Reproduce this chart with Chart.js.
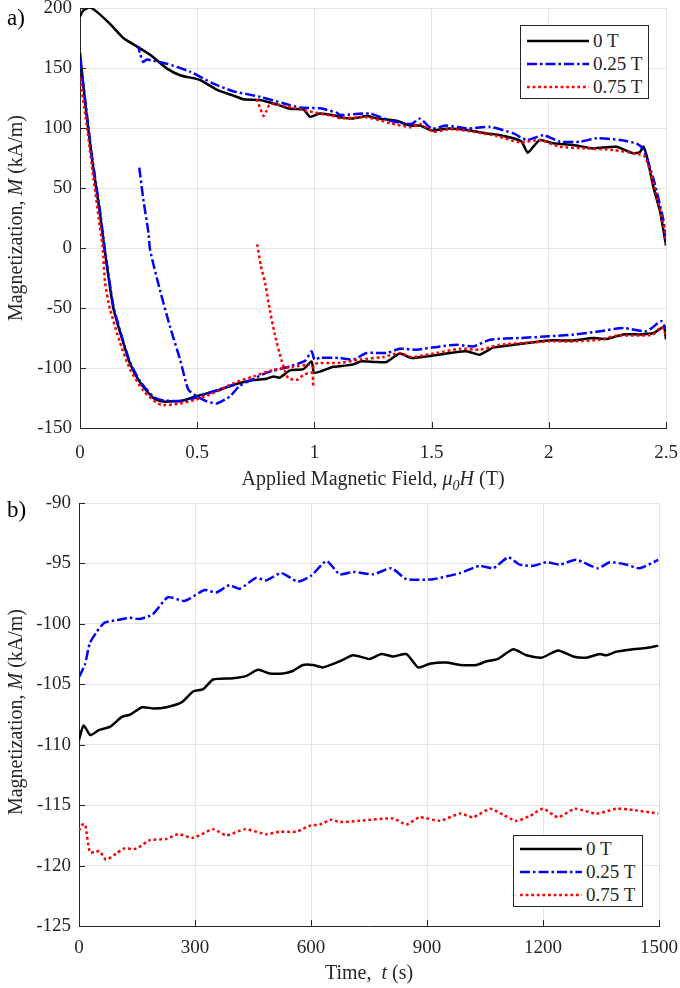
<!DOCTYPE html>
<html>
<head>
<meta charset="utf-8">
<script src="https://cdn.jsdelivr.net/npm/chart.js@4.4.1/dist/chart.umd.min.js"></script>
<style>
  body { margin: 0; width: 680px; height: 988px; position: relative; overflow: hidden; background: #fff;
         font-family: "Liberation Serif", "Times New Roman", serif; color: #262626; }
  .box { position: absolute; left: 0; width: 680px; }
  .txt { position: absolute; white-space: nowrap; font-size: 20px; line-height: 1; }
  .ytitle { transform: translate(-50%, -50%) rotate(-90deg); }
  .xtitle { transform: translate(-50%, -50%); }
  .panel { font-size: 23px; color: #000; }
  .legend { position: absolute; border: 1px solid #262626; background: #fff; box-sizing: border-box; padding-top: 3px; }
  .legend .row { display: flex; align-items: center; height: 23px; padding-left: 6px; font-size: 19px; }
  .legend svg { margin-right: 4px; }
</style>
</head>
<body>
<div class="box" style="top:0;height:470px"><canvas id="fieldChart"></canvas></div>
<div class="box" style="top:490px;height:480px"><canvas id="timeChart"></canvas></div>

<div class="txt panel" style="left:7px;top:6px">a)</div>
<div class="txt panel" style="left:7px;top:498px">b)</div>
<div class="txt ytitle" style="left:15px;top:218px">Magnetization, <i>M</i> (kA/m)</div>
<div class="txt ytitle" style="left:15px;top:712px">Magnetization, <i>M</i> (kA/m)</div>
<div class="txt xtitle" style="left:373px;top:480px">Applied Magnetic Field, <i>&mu;</i><sub style="font-size:14px;vertical-align:-5px"><i>0</i></sub><i>H</i> (T)</div>
<div class="txt xtitle" style="left:369px;top:972px">Time,&nbsp; <i>t</i> (s)</div>

<div class="legend" id="legendA" style="left:520px;top:25px;width:129px;height:74px"></div>
<div class="legend" id="legendB" style="left:513px;top:835px;width:130px;height:72px;padding-top:1px"></div>

<script>
// series
const seriesNames = ['0 T', '0.25 T', '0.75 T'];

// a) M vs applied field
const fieldTicks = [0, 0.5, 1, 1.5, 2, 2.5];
const magTicksA = [-150, -100, -50, 0, 50, 100, 150, 200];

const fieldBlackLow = [0, 0.021, 0.05, 0.085, 0.104, 0.142, 0.177, 0.213, 0.256, 0.313, 0.356, 0.44, 0.505, 0.583, 0.654, 0.74, 0.796, 0.825, 0.853, 0.896, 0.953, 0.988, 1.0, 1.08, 1.109, 1.166, 1.2, 1.26, 1.308, 1.364, 1.414, 1.5, 1.578, 1.649, 1.706, 1.763, 1.877, 2.0, 2.105, 2.19, 2.247, 2.318, 2.39, 2.447, 2.49, 2.5];
const magBlackLow = [162.5, 123, 76, 29, 0, -49.7, -74, -96, -112, -125, -128, -127, -123, -119, -114, -110, -109, -107, -108, -102, -100.9, -94.5, -104, -99, -98.6, -97, -94.4, -95, -95, -88, -91.7, -89.7, -87.5, -86, -88.9, -83, -80, -77, -77, -75, -75.8, -72, -72, -70.8, -66, -76];
const fieldBlackUp = [2.5, 2.475, 2.445, 2.42, 2.403, 2.389, 2.36, 2.288, 2.19, 2.105, 2.02, 1.962, 1.934, 1.91, 1.884, 1.849, 1.792, 1.735, 1.65, 1.578, 1.521, 1.5, 1.45, 1.408, 1.351, 1.266, 1.223, 1.166, 1.109, 1.095, 1.024, 0.981, 0.953, 0.896, 0.84, 0.768, 0.697, 0.654, 0.583, 0.512, 0.427, 0.37, 0.299, 0.242, 0.185, 0.128, 0.071, 0.04, 0.014, 0];
const magBlackUp = [2, 30, 51.8, 75, 84.5, 80, 79, 84.4, 83, 85.8, 87.2, 90, 84.4, 79.4, 88.6, 91.4, 94, 95.5, 98.3, 99.6, 98.3, 98, 102, 102, 106, 108, 110, 108, 109, 110, 112, 109.4, 115.5, 116, 119.6, 123.3, 124, 127, 132, 140, 144, 149.7, 161, 168, 175, 186.7, 197, 200.5, 198, 193];

const fieldBlueA = [0, 0.021, 0.05, 0.085, 0.104, 0.142, 0.177, 0.213, 0.256, 0.313, 0.356, 0.44, 0.505, 0.56, 0.66];
const magBlueA = [158, 125, 78, 31, 2, -48, -73, -95, -111, -124, -127, -127.5, -124, -120, -114];
const fieldBlueB = [0.253, 0.27, 0.292, 0.299, 0.341, 0.384, 0.427, 0.462, 0.498, 0.54, 0.583, 0.64, 0.68, 0.74, 0.796, 0.896, 0.96, 0.988, 1.0, 1.024, 1.109, 1.166, 1.223, 1.308, 1.364, 1.436, 1.536, 1.607, 1.678, 1.749, 1.877, 2.0, 2.105, 2.218, 2.318, 2.417, 2.48, 2.5];
const magBlueB = [66.9, 40.6, 12.8, -1.7, -35, -65.6, -93, -118, -123.6, -127.7, -129.6, -123.6, -115, -109, -104, -98.6, -94, -86, -93, -91.5, -91.7, -93, -87.5, -87.5, -84, -84.7, -82, -80.6, -82, -76.4, -75, -73.6, -72.2, -69.4, -66.7, -69.4, -61, -68];
const fieldBlueUp = [2.5, 2.488, 2.445, 2.403, 2.375, 2.304, 2.204, 2.133, 2.048, 1.977, 1.906, 1.849, 1.749, 1.65, 1.564, 1.5, 1.45, 1.414, 1.323, 1.237, 1.109, 1.095, 1.024, 0.939, 0.868, 0.768, 0.654, 0.569, 0.469, 0.37, 0.313, 0.284, 0.27, 0.256, 0.249];
const magBlueUp = [7, 24, 58.7, 82.4, 87, 90, 91.4, 88.6, 88.6, 94, 90, 95.5, 100.9, 99.6, 102, 99.6, 107.8, 103.3, 106, 112, 110.8, 112.8, 116.4, 117, 120.6, 126, 130.6, 137, 147, 153.6, 156, 157, 155, 162, 168];

const fieldRedA = [0, 0.028, 0.057, 0.085, 0.097, 0.107, 0.128, 0.171, 0.213, 0.27, 0.327, 0.356, 0.427, 0.484, 0.569, 0.654, 0.74, 0.825, 0.91, 0.98];
const magRedA = [141.7, 103.5, 59, 17.5, 0, -29, -51, -79, -101, -119, -129, -131, -129.6, -127, -121, -112.6, -107, -101.5, -99, -97];
const fieldRedB = [0.756, 0.772, 0.79, 0.81, 0.83, 0.859, 0.888, 0.93, 0.953, 0.99, 0.995, 1.0, 1.109, 1.195, 1.294, 1.364, 1.414, 1.521, 1.621, 1.706, 1.792, 1.906, 2.0, 2.105, 2.218, 2.29, 2.389, 2.445, 2.48, 2.5];
const magRedB = [3, -15, -29.4, -51.7, -71, -93, -108.4, -109.7, -105.6, -104, -115.6, -97, -95.8, -93, -90.8, -87.5, -90.8, -87.5, -84, -84.7, -80.6, -79, -77.8, -77.8, -76.4, -73, -73, -72, -65.8, -72];
const fieldRedUp = [2.5, 2.496, 2.453, 2.41, 2.36, 2.275, 2.161, 2.048, 1.962, 1.877, 1.778, 1.678, 1.578, 1.507, 1.45, 1.414, 1.323, 1.223, 1.109, 1.095, 1.024, 0.939, 0.868, 0.811, 0.795, 0.783, 0.77, 0.754];
const magRedUp = [3, 13, 49, 76, 79, 81.7, 83, 84.4, 90, 88, 93.3, 97, 99, 97, 103.3, 100.6, 104, 108.9, 108, 109.4, 112, 115.5, 118.5, 120, 114, 110, 116, 124];

// b) M vs time
const timeTicks = [0, 300, 600, 900, 1200, 1500];
const magTicksB = [-125, -120, -115, -110, -105, -100, -95, -90];

const timeBlack = [0, 12, 29, 51, 81, 111, 133, 163, 193, 226, 265, 295, 321, 347, 398, 433, 463, 493, 528, 553, 579, 605, 631, 674, 709, 752, 782, 812, 847, 877, 907, 950, 985, 1028, 1054, 1084, 1123, 1157, 1196, 1239, 1278, 1312, 1347, 1364, 1390, 1433, 1467, 1498];
const magBlack = [-109.6, -108.4, -109.2, -108.8, -108.5, -107.7, -107.5, -106.9, -107.0, -106.9, -106.5, -105.6, -105.4, -104.6, -104.5, -104.3, -103.8, -104.1, -104.1, -103.9, -103.4, -103.4, -103.6, -103.1, -102.6, -102.9, -102.5, -102.7, -102.5, -103.6, -103.3, -103.2, -103.4, -103.4, -103.1, -102.9, -102.1, -102.6, -102.8, -102.2, -102.7, -102.8, -102.5, -102.6, -102.3, -102.1, -102.0, -101.8];
const timeBlue = [0, 15, 28, 45, 66, 97, 131, 157, 191, 230, 273, 325, 355, 389, 415, 458, 484, 523, 566, 601, 640, 674, 709, 761, 808, 847, 916, 985, 1036, 1071, 1110, 1140, 1174, 1209, 1243, 1286, 1342, 1373, 1416, 1450, 1498];
const magBlue = [-104.4, -103.4, -101.6, -100.7, -99.9, -99.7, -99.5, -99.6, -99.2, -97.8, -98.1, -97.2, -97.4, -96.8, -97.1, -96.2, -96.4, -95.8, -96.5, -96.0, -94.8, -95.9, -95.7, -95.9, -95.4, -96.3, -96.3, -95.8, -95.2, -95.4, -94.5, -95.1, -95.2, -94.9, -95.1, -94.7, -95.4, -94.9, -95.1, -95.4, -94.7];
const timeRed = [0, 9, 16, 28, 40, 53, 70, 97, 114, 148, 183, 226, 256, 295, 347, 381, 429, 485, 519, 562, 597, 623, 653, 674, 726, 812, 847, 881, 933, 985, 1019, 1063, 1097, 1131, 1166, 1200, 1239, 1282, 1338, 1390, 1433, 1498];
const magRed = [-117.1, -116.6, -116.6, -118.9, -118.9, -118.8, -119.5, -119.0, -118.6, -118.6, -117.9, -117.8, -117.4, -117.7, -117.0, -117.5, -117.0, -117.4, -117.2, -117.2, -116.7, -116.6, -116.2, -116.4, -116.3, -116.1, -116.6, -116.0, -116.3, -115.7, -116.0, -115.3, -115.8, -116.3, -115.9, -115.3, -116.0, -115.3, -115.7, -115.3, -115.4, -115.7];

// styles
const lineColors = ['#000000', '#0000ff', '#ff0000'];
const lineDash = [[], [10, 3, 2.5, 3], [2.8, 2.8]];
const gridColor = '#e3e3e3';
const axisColor = '#262626';
const serif = '"Liberation Serif", "Times New Roman", serif';
const tickFont = { family: serif, size: 19 };

Chart.defaults.font.family = serif;

function points(xs, ys) {
    return xs.map(function (x, i) { return { x: x, y: ys[i] }; });
}

function line(k, xs, ys) {
    return {
        label: seriesNames[k],
        data: points(xs, ys),
        showLine: true,
        borderColor: lineColors[k],
        borderWidth: 2.5,
        borderDash: lineDash[k],
        borderCapStyle: 'butt',
        pointRadius: 0,
        tension: 0.2,
        order: 3 - k
    };
}

// short tick marks pointing into the plot, like the original
const innerTicks = {
    id: 'innerTicks',
    afterDraw: function (chart) {
        var ctx = chart.ctx, a = chart.chartArea;
        var xs = chart.scales.x, ys = chart.scales.y;
        ctx.save();
        ctx.strokeStyle = axisColor;
        ctx.lineWidth = 1;
        ctx.beginPath();
        xs.ticks.forEach(function (t) {
            var px = Math.round(xs.getPixelForValue(t.value)) + 0.5;
            ctx.moveTo(px, a.bottom);
            ctx.lineTo(px, a.bottom - 6);
        });
        ys.ticks.forEach(function (t) {
            var py = Math.round(ys.getPixelForValue(t.value)) + 0.5;
            ctx.moveTo(a.left, py);
            ctx.lineTo(a.left + 6, py);
        });
        ctx.stroke();
        ctx.restore();
    }
};

function axis(min, max, tickValues, pad, fit) {
    return {
        type: 'linear',
        min: min,
        max: max,
        afterBuildTicks: function (s) { s.ticks = tickValues.map(function (v) { return { value: v }; }); },
        afterFit: fit,
        ticks: { callback: function (v) { return String(v); }, font: tickFont, color: axisColor, padding: pad, maxRotation: 0, autoSkip: false },
        grid: { color: gridColor, lineWidth: 1, drawTicks: false },
        border: { color: axisColor, width: 1 }
    };
}

function makeChart(id, datasets, xAxis, yAxis, padding) {
    return new Chart(document.getElementById(id), {
        type: 'scatter',
        data: { datasets: datasets },
        options: {
            animation: false,
            responsive: true,
            maintainAspectRatio: false,
            layout: { padding: padding },
            plugins: { legend: { display: false }, tooltip: { enabled: false } },
            scales: { x: xAxis, y: yAxis }
        },
        plugins: [innerTicks]
    });
}

function buildLegend(el) {
    seriesNames.forEach(function (name, k) {
        var row = document.createElement('div');
        row.className = 'row';
        var dash = lineDash[k].length ? lineDash[k].join(' ') : 'none';
        row.innerHTML = '<svg width="62" height="10"><line x1="0" y1="5" x2="62" y2="5" stroke="' + lineColors[k] +
            '" stroke-width="2.5" stroke-dasharray="' + dash + '"/></svg><span>' + name + '</span>';
        el.appendChild(row);
    });
}

function drawAll() {
    makeChart('fieldChart', [
        line(0, fieldBlackLow, magBlackLow),
        line(0, fieldBlackUp, magBlackUp),
        line(1, fieldBlueA, magBlueA),
        line(1, fieldBlueB, magBlueB),
        line(1, fieldBlueUp, magBlueUp),
        line(2, fieldRedA, magRedA),
        line(2, fieldRedB, magRedB),
        line(2, fieldRedUp, magRedUp)
    ],
        axis(0, 2.5, fieldTicks, 14, function (s) { s.height = 42; s.paddingLeft = 0; s.paddingRight = 0; }),
        axis(-150, 200, magTicksA, 8, function (s) { s.width = 80; s.paddingTop = 0; s.paddingBottom = 0; }),
        { top: 8, right: 14, bottom: 0, left: 0 });

    makeChart('timeChart', [
        line(0, timeBlack, magBlack),
        line(1, timeBlue, magBlue),
        line(2, timeRed, magRed)
    ],
        axis(0, 1500, timeTicks, 11, function (s) { s.height = 44; s.paddingLeft = 0; s.paddingRight = 0; }),
        axis(-125, -90, magTicksB, 8, function (s) { s.width = 79; s.paddingTop = 0; s.paddingBottom = 0; }),
        { top: 13, right: 21, bottom: 0, left: 0 });
}

buildLegend(document.getElementById('legendA'));
buildLegend(document.getElementById('legendB'));

// canvas text needs the serif face to be ready before the charts draw
Promise.all([
    document.fonts.load('19px "Liberation Serif"'),
    document.fonts.load('italic 20px "Liberation Serif"')
]).then(drawAll, drawAll);
</script>
</body>
</html>
